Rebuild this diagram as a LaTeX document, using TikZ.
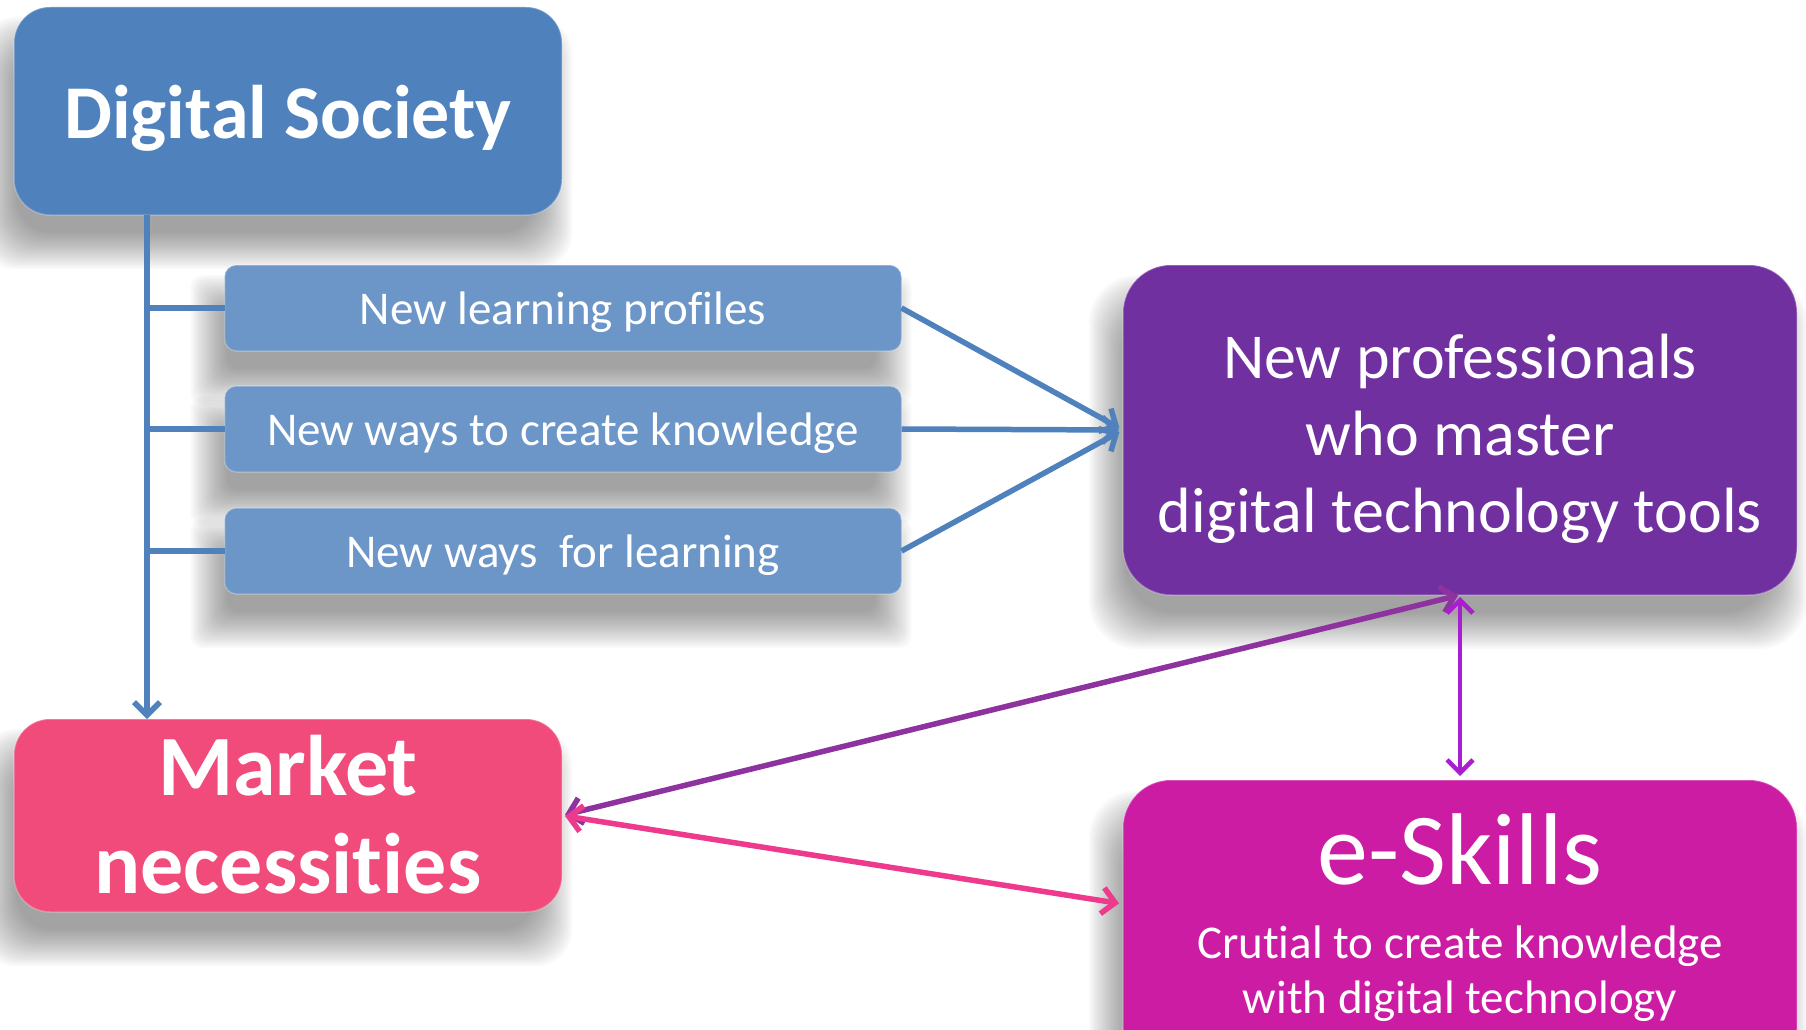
\documentclass[tikz,border=0pt]{standalone}
\usepackage{fontspec}
\setmainfont{Carlito}[Ligatures={NoCommon}]
\usetikzlibrary{arrows.meta}
\pgfdeclarelayer{bg}
\pgfsetlayers{bg,main}
\definecolor{dsblue}{HTML}{4F81BD}
\definecolor{lblue}{HTML}{6C96C8}
\definecolor{profpurple}{HTML}{7030A0}
\definecolor{mkpink}{HTML}{F14B7B}
\definecolor{esmag}{HTML}{CC1CA4}
\definecolor{linepurple}{HTML}{8E32A0}
\definecolor{linepink}{HTML}{EE3A8C}
\definecolor{lineviolet}{HTML}{AA1ED2}
\begin{document}
\begin{tikzpicture}[x=1pt,y=-1pt,
  >={Straight Barb[length=13pt,width=26pt]},
  box/.style={rectangle, inner sep=0pt, outer sep=0pt, draw=white, draw opacity=0.25, line width=1.5pt},
  txt/.style={text=white, inner sep=0pt, anchor=base, align=center},
  blueconn/.style={draw=dsblue, line width=5.5pt},
  purpconn/.style={draw=linepurple, line width=5.5pt, <->},
  pinkconn/.style={draw=linepink, line width=5.5pt, <->},
  violconn/.style={draw=lineviolet, line width=4.5pt, <->}]
\useasboundingbox (0,0) rectangle (1806,1030);

% boxes
\node[box, fill=dsblue, rounded corners=36pt, minimum width=548pt, minimum height=208pt] (ds) at (288,111) {};
\node[box, fill=lblue, rounded corners=12pt, minimum width=677pt, minimum height=86pt] (p1) at (563,308) {};
\node[box, fill=lblue, rounded corners=12pt, minimum width=677pt, minimum height=86pt] (p2) at (563,429) {};
\node[box, fill=lblue, rounded corners=12pt, minimum width=677pt, minimum height=86pt] (p3) at (563,551) {};
\node[box, fill=profpurple, rounded corners=48pt, minimum width=674pt, minimum height=330pt] (prof) at (1460,430) {};
\node[box, fill=mkpink, rounded corners=36pt, minimum width=548pt, minimum height=193pt] (mk) at (288,815.5) {};
\node[box, fill=esmag, rounded corners=48pt, minimum width=674pt, minimum height=300pt] (es) at (1460,930) {};

% shadows
\begin{pgfonlayer}{bg}
\foreach \n/\r in {ds/36, p1/12, p2/12, p3/12, prof/48, mk/36, es/48} {
  \foreach \d in {-14,-12,...,22} {
    \fill[black, opacity=0.022, rounded corners=\r pt]
      ([shift={(-12-\d,32-\d)}]\n.north west) rectangle ([shift={(-12+\d,32+\d)}]\n.south east);
  }
}
\end{pgfonlayer}

% texts
\node[txt, font=\fontsize{76}{90}\selectfont\bfseries] (dsT) at (288,139) {Digital Society};
\node[txt, font=\fontsize{47}{56}\selectfont] (p1T) at (563,324) {New learning profiles};
\node[txt, font=\fontsize{47}{56}\selectfont] (p2T) at (563,445) {New ways to create knowledge};
\node[txt, font=\fontsize{47}{56}\selectfont] (p3T) at (563,567) {New ways\ \ for learning};
\node[txt, font=\fontsize{64}{77}\selectfont] (prT1) at (1460,378) {New professionals};
\node[txt, font=\fontsize{64}{77}\selectfont] (prT2) at (1460,455) {who master};
\node[txt, font=\fontsize{64}{77}\selectfont] (prT3) at (1460,532) {digital technology tools};
\node[txt, font=\fontsize{86}{98}\selectfont\bfseries] (mkT1) at (288,795) {Market};
\node[txt, font=\fontsize{86}{98}\selectfont\bfseries] (mkT2) at (288,893) {necessities};
\node[txt, font=\fontsize{102}{110}\selectfont] (esT) at (1460,884) {e-Skills};
\node[txt, font=\fontsize{47}{56}\selectfont] (esT2) at (1460,958) {Crutial to create knowledge};
\node[txt, font=\fontsize{47}{56}\selectfont] (esT3) at (1460,1013) {with digital technology};

% connectors
\coordinate (tx) at (147,0);
\draw[blueconn, ->] (ds.south -| tx) -- (mk.north -| tx);
\draw[blueconn] (p1.west -| tx) -- (p1.west);
\draw[blueconn] (p2.west -| tx) -- (p2.west);
\draw[blueconn] (p3.west -| tx) -- (p3.west);
\draw[blueconn, ->, shorten >=4pt] (p1.east) -- (prof.west);
\draw[blueconn, ->, shorten >=4pt] (p2.east) -- (prof.west);
\draw[blueconn, ->, shorten >=4pt] (p3.east) -- (prof.west);
\draw[purpconn, shorten <=3pt, shorten >=2pt] (mk.east) -- (prof.south);
\draw[pinkconn, shorten <=3pt, shorten >=4pt] (mk.east) -- ([yshift=26pt]es.west);
\draw[violconn, shorten <=2pt, shorten >=4pt] (prof.south) -- (es.north);
\end{tikzpicture}
\end{document}
